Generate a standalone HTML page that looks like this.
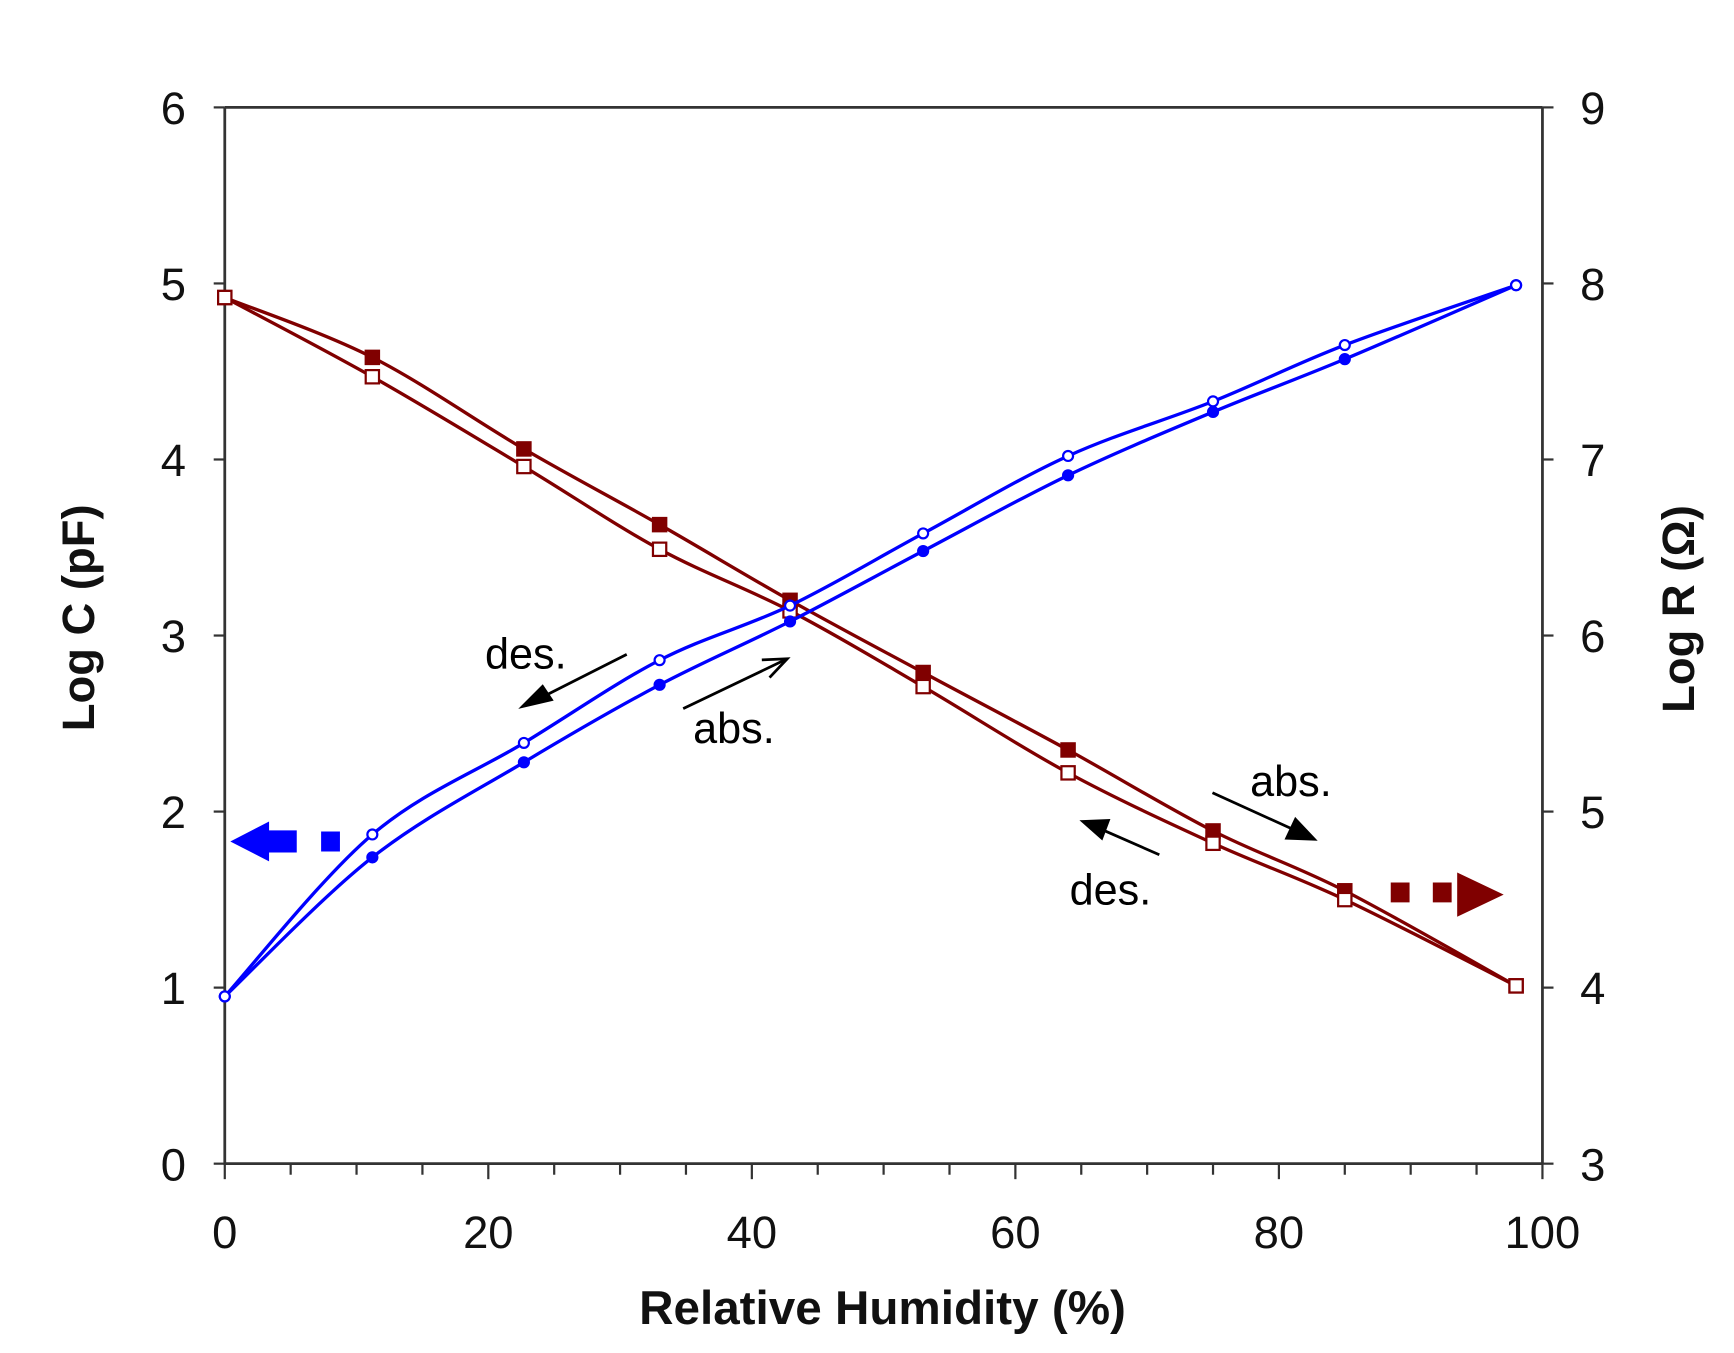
<!DOCTYPE html>
<html><head><meta charset="utf-8"><style>
html,body{margin:0;padding:0;background:#fff;}
svg{display:block;}
text{font-family:"Liberation Sans",Arial,sans-serif;}
</style></head><body>
<svg id="chart" width="1734" height="1353" viewBox="0 0 1566 1222" preserveAspectRatio="none" xmlns="http://www.w3.org/2000/svg">
<g id="axes"></g>
<g id="series"></g>
<g id="notes">
  <path d="M208,760 L243,742 L243,750 L268,750 L268,770 L243,770 L243,778 Z M290,751 L307,751 L307,769 L290,769 Z" fill="#0000ff"/>
  <path d="M1256,797 L1273,797 L1273,815 L1256,815 Z M1294,797 L1311,797 L1311,815 L1294,815 Z M1316,788 L1358,808 L1316,828 Z" fill="#800000"/>
  <g stroke="#000" stroke-width="2.5" fill="#000">
    <line x1="566" y1="591" x2="485" y2="632"/>
    <path d="M472,638 L490,620 L498,632 Z"/>
  </g>
  <g stroke="#000" stroke-width="2.5" fill="none">
    <line x1="617" y1="640" x2="711" y2="595"/>
    <path d="M688,596 L711,595 L695,612"/>
  </g>
  <g stroke="#000" stroke-width="2.5" fill="#000">
    <line x1="1095" y1="716" x2="1172" y2="751"/>
    <path d="M1187,758 L1162,757 L1170,740 Z"/>
  </g>
  <g stroke="#000" stroke-width="2.5" fill="#000">
    <line x1="1047" y1="772" x2="990" y2="747"/>
    <path d="M978,742 L1001,741 L995,757 Z"/>
  </g>
  <text x="438" y="604" font-size="39">des.</text>
  <text x="626" y="671" font-size="39">abs.</text>
  <text x="1129" y="719" font-size="39">abs.</text>
  <text x="966" y="817" font-size="39">des.</text>
</g>
</svg>
<script>
const rh = [0, 11.2, 22.7, 33, 42.9, 53, 64, 75, 85, 98];
const capDes = [0.95, 1.87, 2.39, 2.86, 3.17, 3.58, 4.02, 4.33, 4.65, 4.99];
const capAbs = [0.95, 1.74, 2.28, 2.72, 3.08, 3.48, 3.91, 4.27, 4.57, 4.99];
const resAbs = [7.92, 7.58, 7.06, 6.63, 6.20, 5.79, 5.35, 4.89, 4.55, 4.01];
const resDes = [7.92, 7.47, 6.96, 6.49, 6.14, 5.71, 5.22, 4.82, 4.50, 4.01];
const xTicks = [0, 20, 40, 60, 80, 100];
const yLeftTicks = [0, 1, 2, 3, 4, 5, 6];
const yRightTicks = [3, 4, 5, 6, 7, 8, 9];

const L = 203, R = 1393, T = 97, B = 1051;
const xS = v => L + (v - 0) / 100 * (R - L);
const yC = v => B - (v - 0) / 6 * (B - T);
const yR = v => B - (v - 3) / 6 * (B - T);
const NS = 'http://www.w3.org/2000/svg';
function mk(tag, attrs, parent) {
  const e = document.createElementNS(NS, tag);
  for (const k in attrs) e.setAttribute(k, attrs[k]);
  parent.appendChild(e);
  return e;
}
const axes = document.getElementById('axes');
const ser = document.getElementById('series');
const ac = '#333';
const frame = mk('path', {d: `M${L},${T} L${R},${T} M${L},${T} L${L},${B} L${R},${B} M${R},${T} L${R},${B}`, stroke: ac, 'stroke-width': 2.5, fill: 'none'}, axes);


for (let v = 0; v <= 100; v += 5) {
  const t = mk('line', {x1: xS(v), x2: xS(v), y1: B, y2: B + (v % 20 === 0 ? 14 : 10), stroke: ac, 'stroke-width': 2}, axes);
  
  
}
xTicks.forEach(v => {
  const t = mk('text', {x: xS(v), y: B + 76, 'font-size': 41, 'text-anchor': 'middle', fill: '#111'}, axes);
  t.textContent = v;
  
  
});
yLeftTicks.forEach(v => {
  const l = mk('line', {x1: L - 10, x2: L, y1: yC(v), y2: yC(v), stroke: ac, 'stroke-width': 2}, axes);
  
  
  const t = mk('text', {x: L - 35, y: yC(v) + 15, 'font-size': 41, 'text-anchor': 'end', fill: '#111'}, axes);
  t.textContent = v;
  
  
});
yRightTicks.forEach(v => {
  const l = mk('line', {x1: R, x2: R + 10, y1: yR(v), y2: yR(v), stroke: ac, 'stroke-width': 2}, axes);
  
  
  const t = mk('text', {x: R + 34, y: yR(v) + 15, 'font-size': 41, 'text-anchor': 'start', fill: '#111'}, axes);
  t.textContent = v;
  
  
});
const xt = mk('text', {x: 797, y: 1196, 'font-size': 43, 'font-weight': 'bold', 'text-anchor': 'middle', fill: '#111'}, axes);
xt.textContent = 'Relative Humidity (%)';


const yl = mk('text', {x: 0, y: 0, 'font-size': 41, 'font-weight': 'bold', 'text-anchor': 'middle', fill: '#111', transform: 'translate(85,558) rotate(-90)'}, axes);
yl.textContent = 'Log C (pF)';


const yr = mk('text', {x: 0, y: 0, 'font-size': 41, 'font-weight': 'bold', 'text-anchor': 'middle', fill: '#111', transform: 'translate(1530,550) rotate(-90)'}, axes);
yr.textContent = 'Log R (Ω)';



function smooth(pts) {
  let d = `M${pts[0][0]},${pts[0][1]}`;
  for (let i = 0; i < pts.length - 1; i++) {
    const p0 = pts[Math.max(i - 1, 0)], p1 = pts[i], p2 = pts[i + 1], p3 = pts[Math.min(i + 2, pts.length - 1)];
    const c1 = [p1[0] + (p2[0] - p0[0]) / 6, p1[1] + (p2[1] - p0[1]) / 6];
    const c2 = [p2[0] - (p3[0] - p1[0]) / 6, p2[1] - (p3[1] - p1[1]) / 6];
    d += ` C${c1[0]},${c1[1]} ${c2[0]},${c2[1]} ${p2[0]},${p2[1]}`;
  }
  return d;
}
function series(vals, yf, color, name, marker, filled) {
  const pts = rh.map((x, i) => [xS(x), yf(vals[i])]);
  const p = mk('path', {d: smooth(pts), stroke: color, 'stroke-width': 3, fill: 'none'}, ser);
  
  
  pts.forEach(([x, y]) => {
    let m;
    if (marker === 'circle') m = mk('circle', {cx: x, cy: y, r: 4.5, fill: filled ? color : '#fff', stroke: color, 'stroke-width': 2}, ser);
    else m = mk('rect', {x: x - 6, y: y - 6, width: 12, height: 12, fill: filled ? color : '#fff', stroke: color, 'stroke-width': 2}, ser);
    
    
  });
}
series(resAbs, yR, '#800000', 'resistance-absorption', 'rect', true);
series(resDes, yR, '#800000', 'resistance-desorption', 'rect', false);
series(capAbs, yC, '#0000ff', 'capacitance-absorption', 'circle', true);
series(capDes, yC, '#0000ff', 'capacitance-desorption', 'circle', false);
</script>
</body></html>
